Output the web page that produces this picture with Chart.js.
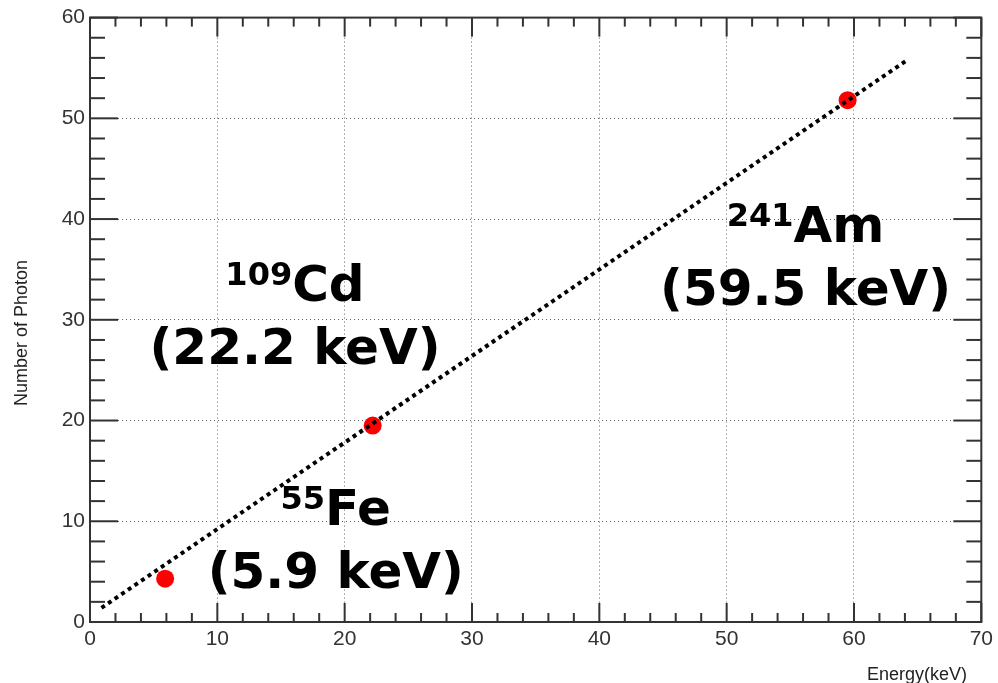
<!DOCTYPE html>
<html>
<head>
<meta charset="utf-8">
<script src="https://cdn.jsdelivr.net/npm/chart.js@4.4.1/dist/chart.umd.min.js"></script>
<style>
  html, body { margin: 0; padding: 0; background: #fff; overflow: hidden; }
</style>
</head>
<body>
<canvas id="chart" width="998" height="683"></canvas>
<script>
// measured sources
const sourceEnergy = [5.9, 22.2, 59.5];
const photonCount = [4.3, 19.5, 51.8];

// linear fit, drawn dotted
const fitEnergy = [0.9, 64.2];
const fitPhoton = [1.4, 55.8];

const xTicks = [0, 10, 20, 30, 40, 50, 60, 70];
const yTicks = [0, 10, 20, 30, 40, 50, 60];

// isotope labels
const labelMass = ['55', '109', '241'];
const labelElement = ['Fe', 'Cd', 'Am'];
const labelEnergy = ['(5.9 keV)', '(22.2 keV)', '(59.5 keV)'];

// where the labels sit (data coords: centre x, baseline of first line)
const labelAt = [
  { x: 19.3, y: 9.6 },
  { x: 16.1, y: 31.9 },
  { x: 56.2, y: 37.7 },
];

const tickFont = { family: '"Liberation Sans", Arial, sans-serif', size: 21 };
const bigFont = '"DejaVu Sans", Verdana, sans-serif';

function line(ctx, x1, y1, x2, y2) {
  ctx.beginPath();
  ctx.moveTo(x1, y1);
  ctx.lineTo(x2, y2);
  ctx.stroke();
}

const isotopeLabels = {
  id: 'isotopeLabels',
  afterDatasetsDraw(chart) {
    const ctx = chart.ctx;
    const xs = chart.scales.x, ys = chart.scales.y;
    ctx.save();
    ctx.fillStyle = '#000';
    ctx.textBaseline = 'alphabetic';
    labelAt.forEach((pos, i) => {
      const cx = xs.getPixelForValue(pos.x);
      const by = ys.getPixelForValue(pos.y);

      ctx.font = `bold 32px ${bigFont}`;
      const wSup = ctx.measureText(labelMass[i]).width;
      ctx.font = `bold 50px ${bigFont}`;
      const wEl = ctx.measureText(labelElement[i]).width;
      const x0 = cx - (wSup + wEl) / 2;

      ctx.textAlign = 'left';
      ctx.font = `bold 32px ${bigFont}`;
      ctx.fillText(labelMass[i], x0, by - 16);
      ctx.font = `bold 50px ${bigFont}`;
      ctx.fillText(labelElement[i], x0 + wSup, by);

      ctx.textAlign = 'center';
      ctx.fillText(labelEnergy[i], cx, by + 63);
    });
    ctx.restore();
  }
};

const rootFrame = {
  id: 'rootFrame',
  afterDraw(chart) {
    const ctx = chart.ctx;
    const xs = chart.scales.x, ys = chart.scales.y;
    const { left, right, top, bottom } = chart.chartArea;
    ctx.save();
    ctx.strokeStyle = '#333';
    ctx.lineWidth = 2;
    ctx.lineCap = 'butt';

    for (let v = xs.min; v <= xs.max; v += 2) {
      const px = xs.getPixelForValue(v);
      const len = v % 10 === 0 ? 19 : 9;
      line(ctx, px, bottom, px, bottom - len);
      line(ctx, px, top, px, top + len);
    }
    for (let v = ys.min; v <= ys.max; v += 2) {
      const py = ys.getPixelForValue(v);
      const len = v % 10 === 0 ? 28 : 15;
      line(ctx, left, py, left + len, py);
      line(ctx, right, py, right - len, py);
    }
    ctx.strokeRect(left, top, right - left, bottom - top);

    // axis titles
    ctx.fillStyle = '#222';
    ctx.font = '18px "Liberation Sans", Arial, sans-serif';
    ctx.textAlign = 'right';
    ctx.textBaseline = 'alphabetic';
    ctx.fillText('Energy(keV)', 967, 680);

    ctx.translate(27, 333);
    ctx.rotate(-Math.PI / 2);
    ctx.textAlign = 'center';
    ctx.fillText('Number of Photon', 0, 0);
    ctx.restore();
  }
};

new Chart(document.getElementById('chart'), {
  type: 'scatter',
  data: {
    datasets: [
      {
        data: fitEnergy.map((x, i) => ({ x, y: fitPhoton[i] })),
        showLine: true,
        borderColor: '#000',
        borderWidth: 4,
        borderDash: [4, 4],
        pointRadius: 0,
        fill: false,
      },
      {
        data: sourceEnergy.map((x, i) => ({ x, y: photonCount[i] })),
        backgroundColor: '#ff0000',
        borderWidth: 0,
        pointRadius: 9,
      },
    ],
  },
  options: {
    responsive: false,
    devicePixelRatio: 1,
    animation: false,
    layout: { padding: { left: 0, top: 16, right: 15, bottom: 0 } },
    plugins: { legend: { display: false }, tooltip: { enabled: false } },
    scales: {
      x: {
        type: 'linear',
        min: xTicks[0],
        max: xTicks[xTicks.length - 1],
        afterBuildTicks: s => { s.ticks = xTicks.map(v => ({ value: v })); },
        afterFit: s => { s.height = 61; },
        grid: { color: '#666', lineWidth: 1, drawTicks: false },
        border: { display: false, dash: [1, 3] },
        ticks: { font: tickFont, color: '#333', padding: 5, maxRotation: 0 },
      },
      y: {
        type: 'linear',
        min: yTicks[0],
        max: yTicks[yTicks.length - 1],
        afterBuildTicks: s => { s.ticks = yTicks.map(v => ({ value: v })); },
        afterFit: s => { s.width = 90; },
        grid: { color: '#666', lineWidth: 1, drawTicks: false },
        border: { display: false, dash: [1, 3] },
        ticks: { font: tickFont, color: '#333', padding: 5 },
      },
    },
  },
  plugins: [isotopeLabels, rootFrame],
});
</script>
</body>
</html>
